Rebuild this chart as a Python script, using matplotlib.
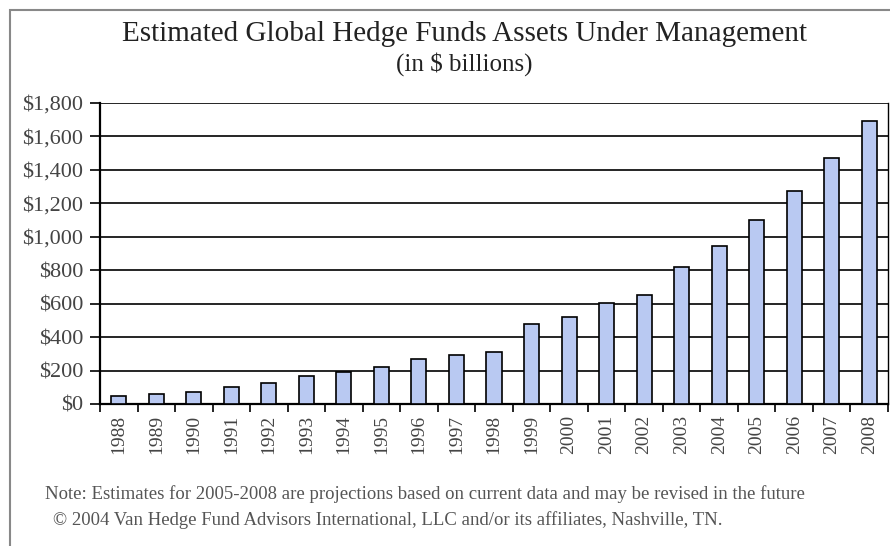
import matplotlib.pyplot as plt
from matplotlib.patches import Rectangle

years = [str(y) for y in range(1988, 2009)]
assets = [50, 62, 72, 104, 124, 166, 190, 219, 271, 293, 313,
          478, 520, 602, 652, 817, 945, 1102, 1272, 1469, 1694]
ytick_values = [0, 200, 400, 600, 800, 1000, 1200, 1400, 1600, 1800]
ytick_labels = ["$" + format(v, ",") for v in ytick_values]

note_lines = [
    "Note: Estimates for 2005-2008 are projections based on current data and may be revised in the future",
    "\u00a9 2004 Van Hedge Fund Advisors International, LLC and/or its affiliates, Nashville, TN.",
]

plt.rcParams["font.family"] = ["Liberation Serif", "DejaVu Serif"]

fig = plt.figure(figsize=(8.9, 5.46), dpi=100)
ax = fig.add_axes([100 / 890, 1 - 404 / 546, 788 / 890, 301 / 546])

x = list(range(len(years)))
ax.bar(x, assets, width=0.4, color="#b9c9f2", edgecolor="black", linewidth=1.2, zorder=3)

ax.set_xlim(-0.5, len(years) - 0.5)
ax.set_ylim(0, 1800)

# category ticks at boundaries, labels in the middle
ax.set_xticks([i - 0.5 for i in range(len(years) + 1)])
ax.set_xticklabels([])
ax.set_xticks(x, minor=True)
ax.set_xticklabels(years, minor=True, rotation=90, fontsize=14, color="#444444")
ax.tick_params(axis="x", which="major", direction="out", length=6, width=1.2)
ax.tick_params(axis="x", which="minor", length=0, pad=8)

ax.set_yticks(ytick_values)
ax.set_yticklabels(ytick_labels, fontsize=16, color="#444444")
ax.tick_params(axis="y", direction="out", length=7, width=1.2, pad=5)

ax.grid(axis="y", color="black", linewidth=1.2, zorder=0)
for side in ["left", "bottom"]:
    ax.spines[side].set_linewidth(1.6)
ax.spines["top"].set_visible(False)
ax.spines["right"].set_linewidth(1.0)

fig.text(0.522, 0.938, "Estimated Global Hedge Funds Assets Under Management",
         ha="center", va="center", fontsize=21, color="#222222")
fig.text(0.522, 0.882, "(in $ billions)", ha="center", va="center", fontsize=18, color="#222222")

fig.text(45 / 890, 1 - 494 / 546, note_lines[0], ha="left", va="center", fontsize=13.5, color="#555555")
fig.text(53 / 890, 1 - 520 / 546, note_lines[1], ha="left", va="center", fontsize=13.5, color="#555555")

# outer frame (cut off at right and bottom like the original)
fig.add_artist(Rectangle((10 / 890, -0.1), 2, 1.1 - 10 / 546, transform=fig.transFigure,
                         fill=False, edgecolor="#888888", linewidth=1.5))

plt.savefig("out.png", dpi=100)
